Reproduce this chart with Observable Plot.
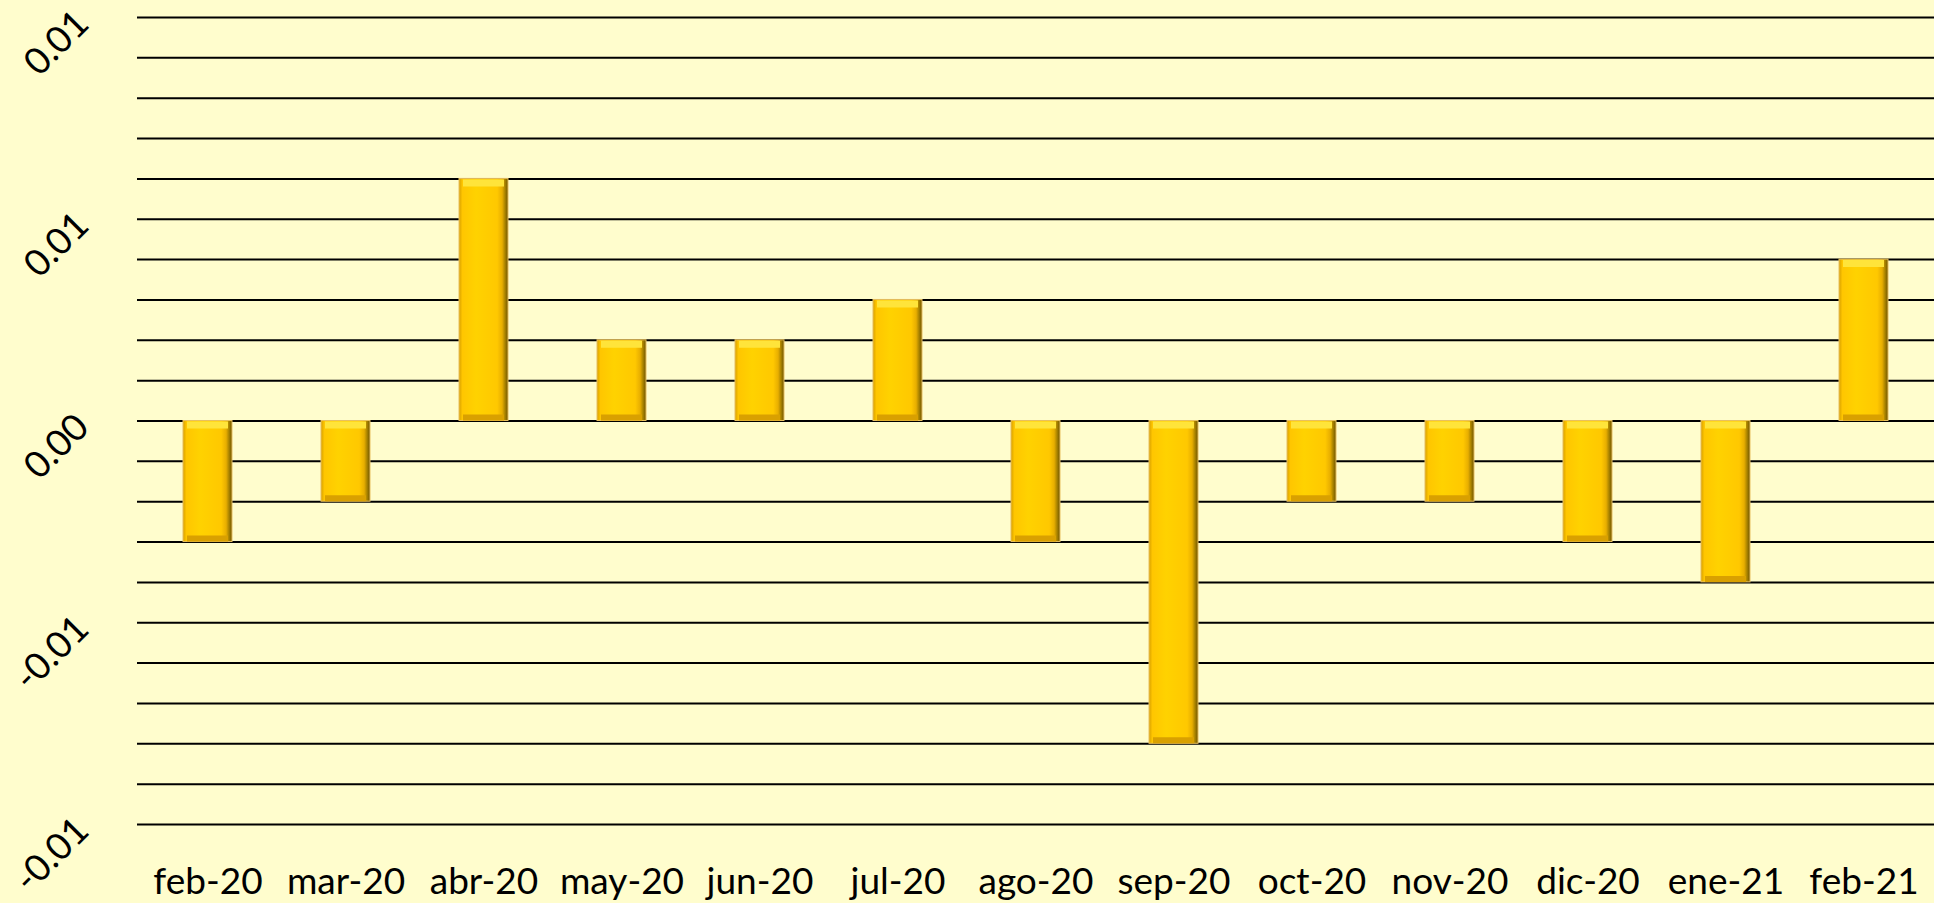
<!DOCTYPE html>
<html>
<head>
<meta charset="utf-8">
<script src="https://cdn.jsdelivr.net/npm/d3@7"></script>
<script src="https://cdn.jsdelivr.net/npm/@observablehq/plot@0.6"></script>
<style>
  html, body { margin: 0; padding: 0; background: #FFFDCD; }
  #chart { width: 1934px; height: 903px; overflow: hidden; }
</style>
</head>
<body>
<div id="chart"></div>
<script>
// Categories and values
const months = ["feb-20","mar-20","abr-20","may-20","jun-20","jul-20","ago-20","sep-20","oct-20","nov-20","dic-20","ene-21","feb-21"];
const values = [-0.003, -0.002, 0.006, 0.002, 0.002, 0.003, -0.003, -0.008, -0.002, -0.002, -0.003, -0.004, 0.004];

// Axis ticks / gridlines
const yTicks = [-0.01, -0.005, 0, 0.005, 0.01];
const yTickLabels = ["-0.01", "-0.01", "0.00", "0.01", "0.01"];
const gridValues = [-0.01,-0.009,-0.008,-0.007,-0.006,-0.005,-0.004,-0.003,-0.002,-0.001,0,0.001,0.002,0.003,0.004,0.005,0.006,0.007,0.008,0.009,0.01];

const data = months.map((m, i) => ({month: m, value: values[i]}));

const plot = Plot.plot({
  width: 1934,
  height: 903,
  marginLeft: 137,
  marginRight: 0,
  marginTop: 17,
  marginBottom: 79,
  style: {background: "#FFFDCD", fontFamily: "Lato, 'Open Sans', sans-serif", fontSize: "37px", color: "#000"},
  x: {domain: months, paddingInner: 0.645, paddingOuter: 0.3225, label: null},
  y: {domain: [-0.01, 0.01], label: null},
  marks: [
    Plot.ruleY(gridValues, {stroke: "#000", strokeWidth: 2}),
    Plot.barY(data, {x: "month", y: "value", fill: "url(#barGrad)", stroke: "#E8C060", strokeWidth: 1}),
    Plot.tickY(data, {x: "month", y: d => Math.max(d.value, 0), stroke: "#FFE43A", strokeWidth: 7, dy: 4, inset: 4}),
    Plot.tickY(data, {x: "month", y: d => Math.min(d.value, 0), stroke: "#D9A000", strokeWidth: 6, dy: -3.5, inset: 4}),
    Plot.axisX({tickSize: 0, tickPadding: 43, fontSize: 37}),
    Plot.axisY({ticks: yTicks, tickFormat: (d, i) => yTickLabels[yTicks.indexOf(d)], tickSize: 0, tickPadding: 55, tickRotate: -45, fontSize: 37})
  ]
});

const svg = d3.select(plot);
const defs = svg.insert("defs", ":first-child");
const g = defs.append("linearGradient").attr("id", "barGrad").attr("x1", 0).attr("x2", 1).attr("y1", 0).attr("y2", 0);
[["0%", "#D8A000"], ["7%", "#FFC600"], ["35%", "#FFD200"], ["78%", "#FFC800"], ["88%", "#E8AE00"], ["94%", "#A88200"], ["100%", "#6E5400"]]
  .forEach(([o, c]) => g.append("stop").attr("offset", o).attr("stop-color", c));

document.getElementById("chart").appendChild(plot);
</script>
</body>
</html>
